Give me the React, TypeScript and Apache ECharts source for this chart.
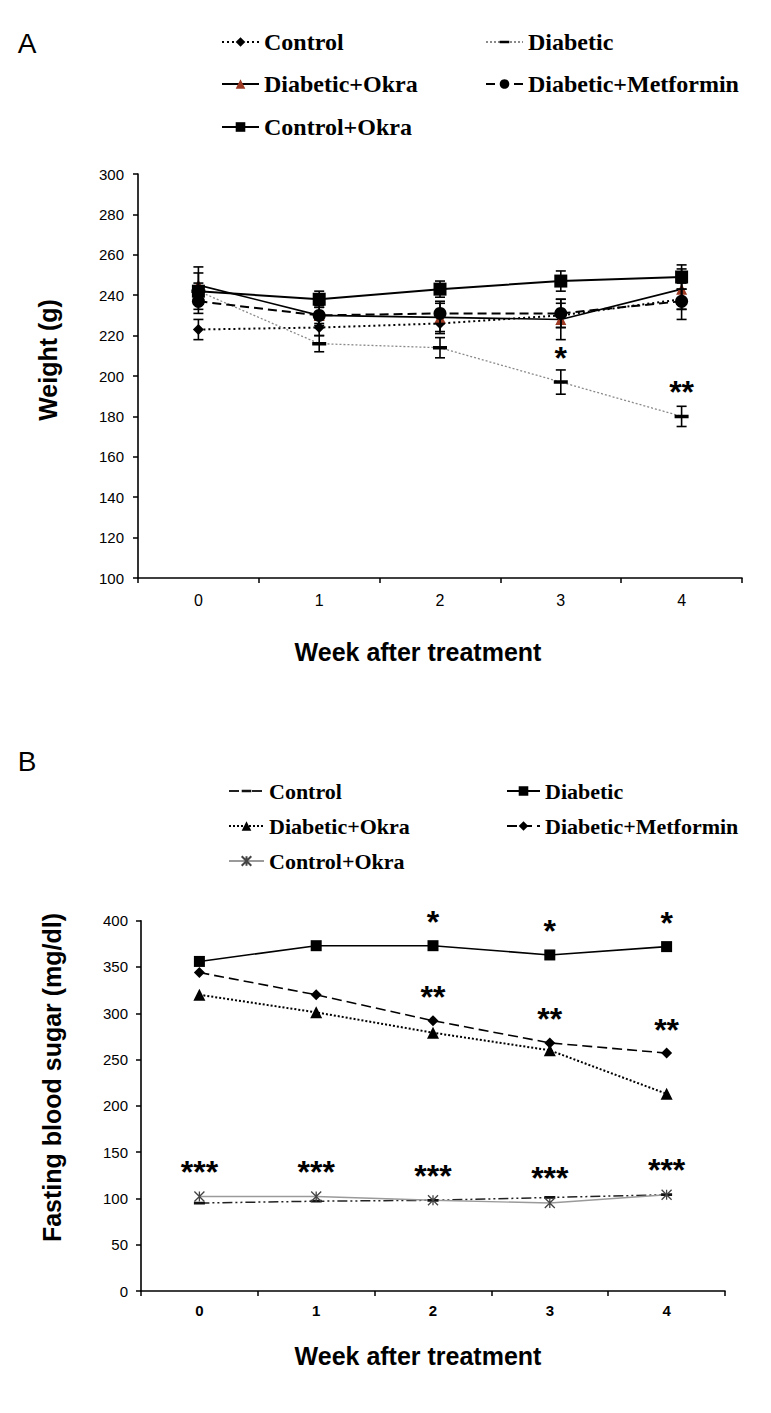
import React, { useEffect, useRef } from 'react';
import * as echarts from 'echarts';

// ---------- shared ----------
const weeks = ['0', '1', '2', '3', '4'];
const seriesNames = ['Control', 'Diabetic', 'Diabetic+Okra', 'Diabetic+Metformin', 'Control+Okra'];

// ---------- Panel A: body weight (g) ----------
const aYTicks = [100, 120, 140, 160, 180, 200, 220, 240, 260, 280, 300];
const aControl = [223, 224, 226, 230, 238];
const aControlErr = [5, 4, 4, 6, 5];
const aDiabetic = [242, 216, 214, 197, 180];
const aDiabeticErr = [4, 4, 5, 6, 5];
const aDiabeticOkra = [245, 230, 229, 228, 243];
const aDiabeticOkraErr = [9, 5, 8, 10, 10];
const aDiabeticMetformin = [237, 230, 231, 231, 237];
const aDiabeticMetforminErr = [6, 4, 5, 7, 9];
const aControlOkra = [242, 238, 243, 247, 249];
const aControlOkraErr = [9, 4, 4, 5, 6];
const aDiabeticSig = ['', '', '', '*', '**'];

// ---------- Panel B: fasting blood sugar (mg/dl) ----------
const bYTicks = [0, 50, 100, 150, 200, 250, 300, 350, 400];
const bControl = [95, 97, 98, 101, 104];
const bDiabetic = [356, 373, 373, 363, 372];
const bDiabeticOkra = [320, 301, 279, 260, 213];
const bDiabeticMetformin = [344, 320, 292, 268, 257];
const bControlOkra = [102, 102, 98, 95, 104];
const bDiabeticSig = ['', '', '*', '*', '*'];
const bMetforminSig = ['', '', '**', '**', '**'];
const bControlOkraSig = ['***', '***', '***', '***', '***'];

const SANS = '"Liberation Sans", Arial, sans-serif';
const SERIF = '"Liberation Serif", "Times New Roman", serif';
// horizontal bar inside a square bounding box (tiny segments pin the box to 12x12)
const DASH_SYMBOL = 'path://M6,0L6.01,0M0,4.5L12,4.5L12,7.5L0,7.5ZM6,12L6.01,12';
const STAR_SYMBOL = 'path://M0,0L10,10M10,0L0,10M5,0L5,10';

function withSig(values: number[], sig: string[] | null, distance: number) {
  return values.map((v, i) => {
    if (!sig || !sig[i]) return v;
    return {
      value: v,
      label: {
        show: true,
        formatter: sig[i],
        position: 'top',
        distance,
        fontSize: 32,
        fontWeight: 'bold',
        fontFamily: SANS,
        color: '#000',
      },
    };
  });
}

function errorBars(vals: number[][], errs: number[][]) {
  const data: number[][] = [];
  vals.forEach((v, s) => v.forEach((y, i) => data.push([i, y - errs[s][i], y + errs[s][i]])));
  return {
    type: 'custom',
    name: 'err',
    silent: true,
    z: 4,
    renderItem: (_p: any, api: any) => {
      const lo = api.coord([api.value(0), api.value(1)]);
      const hi = api.coord([api.value(0), api.value(2)]);
      const w = 5;
      const style = { stroke: '#000', lineWidth: 1.6 };
      return {
        type: 'group',
        children: [
          { type: 'line', shape: { x1: hi[0], y1: hi[1], x2: lo[0], y2: lo[1] }, style },
          { type: 'line', shape: { x1: hi[0] - w, y1: hi[1], x2: hi[0] + w, y2: hi[1] }, style },
          { type: 'line', shape: { x1: lo[0] - w, y1: lo[1], x2: lo[0] + w, y2: lo[1] }, style },
        ],
      };
    },
    encode: { x: 0, y: [1, 2] },
    data,
  };
}

function legendItem(name: string, left: number, top: number, itemWidth: number, fontSize: number) {
  return {
    data: [name],
    left,
    top,
    orient: 'horizontal',
    padding: 0,
    itemWidth,
    itemHeight: 12,
    selectedMode: false,
    textStyle: { fontFamily: SERIF, fontWeight: 'bold', fontSize, color: '#000' },
  };
}

function text(t: string, x: number, y: number, font: string, rotation = 0) {
  return {
    type: 'text',
    x,
    y,
    rotation,
    style: { text: t, font, fill: '#000', align: 'center', verticalAlign: 'middle', textAlign: 'center', textVerticalAlign: 'middle' },
  };
}

function axes(yTicks: number[], xLabelFont: any, xMargin: number, yMargin: number) {
  const axisLine = { show: true, lineStyle: { color: '#000', width: 1.6 } };
  return {
    xAxis: {
      type: 'category',
      data: weeks,
      boundaryGap: true,
      axisLine,
      axisTick: { show: true, inside: false, length: 5, alignWithLabel: false, lineStyle: { color: '#000', width: 1.5 } },
      axisLabel: { color: '#000', margin: xMargin, ...xLabelFont },
      splitLine: { show: false },
    },
    yAxis: {
      type: 'value',
      min: yTicks[0],
      max: yTicks[yTicks.length - 1],
      interval: yTicks[1] - yTicks[0],
      axisLine,
      axisTick: { show: true, inside: false, length: 5, lineStyle: { color: '#000', width: 1.5 } },
      axisLabel: { color: '#000', fontSize: 15, fontFamily: SANS, margin: yMargin },
      splitLine: { show: false },
    },
  };
}

const optionA: any = {
  animation: false,
  backgroundColor: '#fff',
  grid: { left: 138, top: 174, width: 604, height: 404, containLabel: false, outerBoundsMode: 'none' },
  ...axes(aYTicks, { fontSize: 16, fontFamily: SANS }, 14, 14),
  legend: [
    legendItem(seriesNames[0], 221, 30, 37, 24),
    legendItem(seriesNames[1], 485, 30, 37, 24),
    legendItem(seriesNames[2], 221, 72, 37, 24),
    legendItem(seriesNames[3], 485, 72, 37, 24),
    legendItem(seriesNames[4], 221, 115, 37, 24),
  ],
  graphic: [
    text('A', 27, 43, `28px ${SANS}`),
    text('Weight (g)', 48, 360, `bold 25px ${SANS}`, Math.PI / 2),
    text('Week after treatment', 418, 652, `bold 25px ${SANS}`),
  ],
  series: [
    {
      name: 'Control', type: 'line', data: aControl, z: 3,
      symbol: 'diamond', symbolSize: 11,
      itemStyle: { color: '#000' },
      lineStyle: { color: '#000', width: 2, type: [2, 3] },
    },
    {
      name: 'Diabetic', type: 'line', data: withSig(aDiabetic, aDiabeticSig, 1), z: 3,
      symbol: DASH_SYMBOL, symbolSize: 14,
      itemStyle: { color: '#000' },
      lineStyle: { color: '#8a8a8a', width: 1.3, type: [2, 2] },
    },
    {
      name: 'Diabetic+Okra', type: 'line', data: aDiabeticOkra, z: 3,
      symbol: 'triangle', symbolSize: 11,
      itemStyle: { color: '#9c3a24' },
      lineStyle: { color: '#000', width: 1.6, type: 'solid' },
    },
    {
      name: 'Diabetic+Metformin', type: 'line', data: aDiabeticMetformin, z: 3,
      symbol: 'circle', symbolSize: 13,
      itemStyle: { color: '#000' },
      lineStyle: { color: '#000', width: 2, type: [9, 5] },
    },
    {
      name: 'Control+Okra', type: 'line', data: aControlOkra, z: 3,
      symbol: 'rect', symbolSize: 13,
      itemStyle: { color: '#000' },
      lineStyle: { color: '#000', width: 2, type: 'solid' },
    },
    errorBars(
      [aControl, aDiabetic, aDiabeticOkra, aDiabeticMetformin, aControlOkra],
      [aControlErr, aDiabeticErr, aDiabeticOkraErr, aDiabeticMetforminErr, aControlOkraErr]
    ),
  ],
};

const optionB: any = {
  animation: false,
  backgroundColor: '#fff',
  grid: { left: 141, top: 205.7, width: 584, height: 370.3, containLabel: false, outerBoundsMode: 'none' },
  ...axes(bYTicks, { fontSize: 15, fontWeight: 'bold', fontFamily: SANS }, 12, 13),
  legend: [
    legendItem(seriesNames[0], 228, 65, 35, 22),
    legendItem(seriesNames[1], 506, 65, 33, 22),
    legendItem(seriesNames[2], 228, 100, 35, 22),
    legendItem(seriesNames[3], 506, 100, 33, 22),
    legendItem(seriesNames[4], 228, 135, 35, 22),
  ],
  graphic: [
    text('B', 27, 46, `28px ${SANS}`),
    text('Fasting blood sugar (mg/dl)', 52, 362.5, `bold 25px ${SANS}`, Math.PI / 2),
    text('Week after treatment', 418, 640.7, `bold 25px ${SANS}`),
  ],
  series: [
    {
      name: 'Control', type: 'line', data: bControl, z: 3,
      symbol: DASH_SYMBOL, symbolSize: 11,
      itemStyle: { color: '#111' },
      lineStyle: { color: '#222', width: 1.5, type: [10, 3, 2, 3, 2, 3] },
    },
    {
      name: 'Diabetic', type: 'line', data: withSig(bDiabetic, bDiabeticSig, 2), z: 3,
      symbol: 'rect', symbolSize: 11,
      itemStyle: { color: '#000' },
      lineStyle: { color: '#000', width: 1.6, type: 'solid' },
    },
    {
      name: 'Diabetic+Okra', type: 'line', data: bDiabeticOkra, z: 3,
      symbol: 'triangle', symbolSize: 12,
      itemStyle: { color: '#000' },
      lineStyle: { color: '#000', width: 2, type: [2, 2] },
    },
    {
      name: 'Diabetic+Metformin', type: 'line', data: withSig(bDiabeticMetformin, bMetforminSig, 2), z: 3,
      symbol: 'diamond', symbolSize: 11,
      itemStyle: { color: '#000' },
      lineStyle: { color: '#000', width: 1.6, type: [10, 5] },
    },
    {
      name: 'Control+Okra', type: 'line', data: withSig(bControlOkra, bControlOkraSig, 3), z: 3,
      symbol: STAR_SYMBOL, symbolSize: 10,
      itemStyle: { color: '#444', borderColor: '#444', borderWidth: 1.3 },
      lineStyle: { color: '#9a9a9a', width: 1.4, type: 'solid' },
    },
  ],
};

function Chart({ option, height }: { option: any; height: number }) {
  const ref = useRef<HTMLDivElement>(null);
  useEffect(() => {
    const chart = echarts.init(ref.current!, null, { renderer: 'svg' });
    chart.setOption(option);
    return () => chart.dispose();
  }, [option]);
  return <div ref={ref} style={{ width: 771, height }} />;
}

export default function App() {
  return (
    <div style={{ position: 'absolute', left: 0, top: 0, width: 771, height: 1413, background: '#fff' }}>
      <Chart option={optionA} height={715} />
      <Chart option={optionB} height={698} />
    </div>
  );
}
